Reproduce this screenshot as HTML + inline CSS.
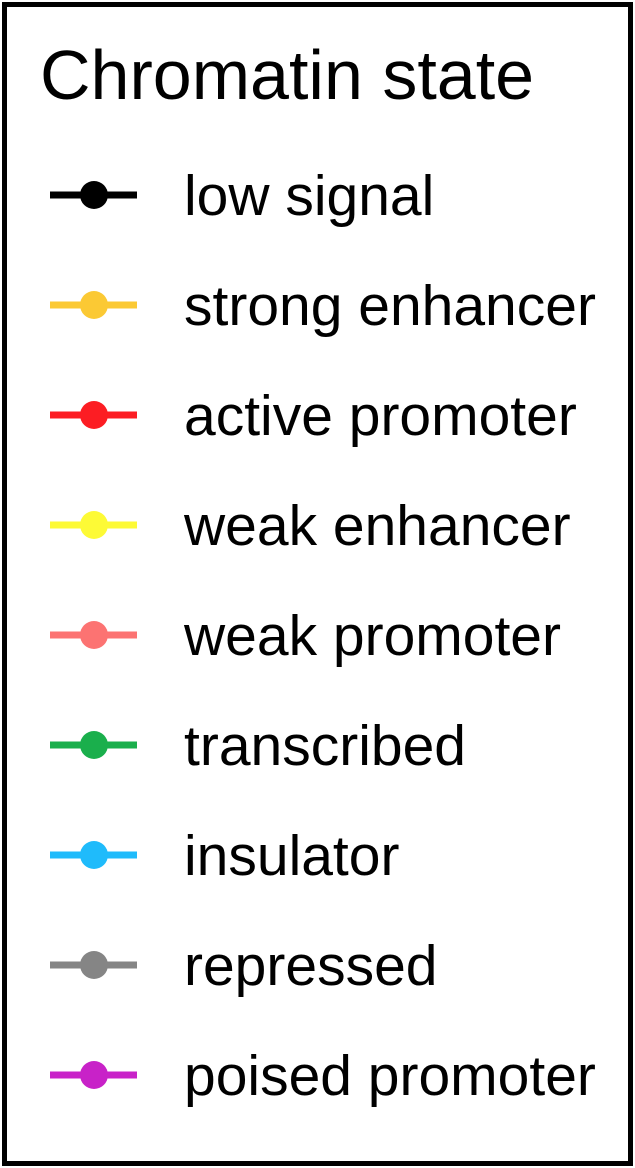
<!DOCTYPE html>
<html><head><meta charset="utf-8"><style>
html,body{margin:0;padding:0;background:#fff;width:635px;height:1168px;overflow:hidden}
text{font-family:"Liberation Sans",Arial,sans-serif;fill:#000}
</style></head><body>
<svg width="635" height="1168" viewBox="0 0 635 1168" xmlns="http://www.w3.org/2000/svg">
<rect x="0" y="0" width="635" height="1168" fill="#fff"/>
<rect x="4.5" y="4.5" width="626" height="1159" fill="none" stroke="#000" stroke-width="5"/>
<text x="40" y="99" font-size="70">Chromatin state</text>
<g stroke-width="7">
<line x1="50" y1="195" x2="137" y2="195" stroke="#000"/><circle cx="94" cy="195" r="14" fill="#000"/>
<line x1="50" y1="305" x2="137" y2="305" stroke="#fbc934"/><circle cx="94" cy="305" r="14" fill="#fbc934"/>
<line x1="50" y1="415" x2="137" y2="415" stroke="#fc1d23"/><circle cx="94" cy="415" r="14" fill="#fc1d23"/>
<line x1="50" y1="525" x2="137" y2="525" stroke="#fdfa36"/><circle cx="94" cy="525" r="14" fill="#fdfa36"/>
<line x1="50" y1="635" x2="137" y2="635" stroke="#fc7372"/><circle cx="94" cy="635" r="14" fill="#fc7372"/>
<line x1="50" y1="745" x2="137" y2="745" stroke="#1aaf4c"/><circle cx="94" cy="745" r="14" fill="#1aaf4c"/>
<line x1="50" y1="855" x2="137" y2="855" stroke="#1fbbfb"/><circle cx="94" cy="855" r="14" fill="#1fbbfb"/>
<line x1="50" y1="965" x2="137" y2="965" stroke="#858585"/><circle cx="94" cy="965" r="14" fill="#858585"/>
<line x1="50" y1="1075" x2="137" y2="1075" stroke="#c822c8"/><circle cx="94" cy="1075" r="14" fill="#c822c8"/>
</g>
<g font-size="57">
<text x="184" y="215">low signal</text>
<text x="184" y="325">strong enhancer</text>
<text x="184" y="435">active promoter</text>
<text x="184" y="545">weak enhancer</text>
<text x="184" y="655">weak promoter</text>
<text x="184" y="765">transcribed</text>
<text x="184" y="875">insulator</text>
<text x="184" y="985">repressed</text>
<text x="184" y="1095">poised promoter</text>
</g>
</svg>
</body></html>
